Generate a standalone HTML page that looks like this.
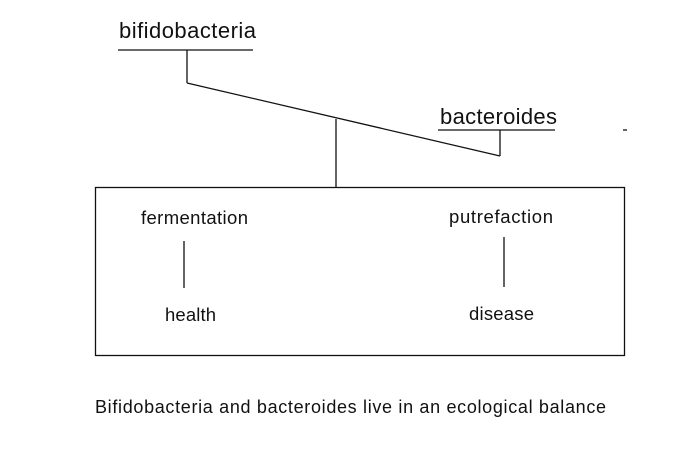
<!DOCTYPE html>
<html><head><style>
body{margin:0;background:#fff;}
svg{display:block}
text{font-family:"Liberation Sans",sans-serif;fill:#111}
</style></head><body>
<svg width="679" height="475" viewBox="0 0 679 475">
<g stroke="#111" stroke-width="1.3" fill="none">
<line x1="118" y1="50" x2="253" y2="50"/>
<line x1="187" y1="50" x2="187" y2="83"/>
<line x1="187" y1="83" x2="500" y2="156"/>
<line x1="438" y1="130" x2="555" y2="130"/>
<line x1="500" y1="130" x2="500" y2="156"/>
<line x1="336" y1="119" x2="336" y2="187"/>
<rect x="95.5" y="187.5" width="529" height="168"/>
<line x1="184" y1="241" x2="184" y2="288"/>
<line x1="504" y1="237" x2="504" y2="287"/>
<line x1="623" y1="130" x2="627" y2="130"/>
</g>
<text x="119" y="38" font-size="22" textLength="137">bifidobacteria</text>
<text x="440" y="124" font-size="22" textLength="117">bacteroides</text>
<text x="141" y="224" font-size="18.5" textLength="107">fermentation</text>
<text x="449" y="223" font-size="18.5" textLength="104">putrefaction</text>
<text x="165" y="321" font-size="18.5" textLength="51">health</text>
<text x="469" y="320" font-size="18.5" textLength="65">disease</text>
<text x="95" y="413" font-size="18" textLength="511">Bifidobacteria and bacteroides live in an ecological balance</text>
</svg>
</body></html>
